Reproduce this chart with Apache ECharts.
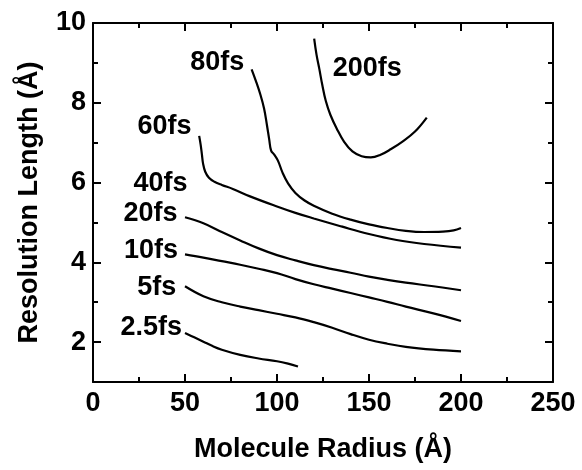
<!DOCTYPE html>
<html>
<head>
<meta charset="utf-8">
<script src="https://cdn.jsdelivr.net/npm/echarts@6/dist/echarts.min.js"></script>
<style>
  html, body { margin: 0; padding: 0; background: #fff; }
  #chart { width: 582px; height: 470px; }
</style>
</head>
<body>
<div id="chart"></div>
<script>
// contour curves, [radius, resolution length]
const curve2p5fs = [[50, 2.23], [55, 2.12], [60, 2.01], [65, 1.9], [70, 1.81], [80, 1.68], [90, 1.59], [100, 1.52], [106, 1.46], [111.4, 1.39]];
const curve5fs = [[50, 3.4], [60, 3.15], [70, 3.0], [80, 2.89], [90, 2.8], [100, 2.71], [110, 2.62], [120, 2.5], [130, 2.36], [140, 2.2], [150, 2.06], [160, 1.96], [170, 1.88], [185, 1.81], [200, 1.77]];
const curve10fs = [[50, 4.2], [60, 4.12], [70, 4.03], [80, 3.94], [90, 3.84], [100, 3.73], [110, 3.58], [120, 3.45], [130, 3.34], [140, 3.23], [150, 3.12], [160, 3.01], [170, 2.89], [185, 2.72], [200, 2.53]];
const curve20fs = [[50, 5.13], [60, 4.98], [70, 4.76], [80, 4.55], [90, 4.35], [100, 4.18], [110, 4.05], [120, 3.93], [130, 3.83], [140, 3.74], [150, 3.64], [160, 3.56], [170, 3.49], [185, 3.4], [200, 3.3]];
const curve60fs = [[57.7, 7.17], [58.5, 6.95], [59.2, 6.7], [59.8, 6.48], [61, 6.27], [63, 6.12], [66, 6.02], [70, 5.94], [76, 5.84], [85, 5.66], [100, 5.4], [110, 5.24], [120, 5.1], [135, 4.9], [150, 4.71], [165, 4.56], [180, 4.46], [200, 4.37]];
const curve80fs = [[86.2, 8.84], [88.5, 8.55], [91, 8.2], [93, 7.85], [94.5, 7.45], [95.8, 7.07], [96.8, 6.8], [98.5, 6.7], [100.5, 6.55], [103, 6.25], [106, 5.98], [110, 5.74], [115, 5.55], [120, 5.42], [130, 5.22], [140, 5.07], [150, 4.95], [160, 4.86], [170, 4.79], [180, 4.76], [190, 4.77], [196, 4.8], [200, 4.86]];
const curve200fs = [[120.2, 9.61], [121.5, 9.2], [123, 8.85], [124.6, 8.45], [126.5, 8.05], [129, 7.7], [132.5, 7.35], [136.5, 7.02], [141, 6.78], [146, 6.66], [151, 6.63], [156, 6.69], [162, 6.84], [168, 7.02], [175, 7.28], [181.4, 7.63]];

// curve labels, placed at their centre in data units
const labelNames = ['80fs', '200fs', '60fs', '40fs', '20fs', '10fs', '5fs', '2.5fs'];
const labelAt = [[67.8, 9.0], [149.3, 8.85], [39.1, 7.4], [37.0, 5.97], [31.5, 5.22], [31.8, 4.28], [34.9, 3.35], [31.9, 2.36]];

// ticks
const yMajor = [2, 4, 6, 8, 10];
const yMinor = [3, 5, 7, 9];

const FONT = "'Liberation Sans', Arial, sans-serif";
const FSIZE = 27;
const black = '#000';

let chart = echarts.init(document.getElementById('chart'));

function lineSeries(data) {
  return {
    type: 'line',
    data: data,
    symbol: 'none',
    smooth: 0.4,
    lineStyle: {color: black, width: 2.2},
    silent: true
  };
}

function yAxisOf(position, values, tickLen, withLine, withLabel) {
  return {
    type: 'value',
    position: position,
    min: 1,
    max: 10,
    splitLine: {show: false},
    axisLine: {show: withLine, lineStyle: {color: black, width: 2}},
    axisTick: {show: true, inside: true, length: tickLen, customValues: values, lineStyle: {color: black, width: 2}},
    axisLabel: {
      show: withLabel,
      customValues: values,
      margin: 7,
      color: black,
      fontFamily: FONT,
      fontWeight: 'bold',
      fontSize: FSIZE
    }
  };
}

let yLeft = yAxisOf('left', yMajor, 8, true, true);
yLeft.name = 'Resolution Length (Å)';
yLeft.nameLocation = 'middle';
yLeft.nameGap = 50;
yLeft.nameTextStyle = {color: black, fontFamily: FONT, fontWeight: 'bold', fontSize: FSIZE};

let labelData = labelNames.map(function (n, i) {
  return {name: n, value: labelAt[i]};
});

chart.setOption({
  backgroundColor: '#fff',
  animation: false,
  grid: {left: 93, right: 29, top: 23, bottom: 88, containLabel: false},
  xAxis: [
    {
      type: 'value',
      position: 'bottom',
      min: 0,
      max: 250,
      interval: 50,
      name: 'Molecule Radius (Å)',
      nameLocation: 'middle',
      nameGap: 54,
      nameTextStyle: {color: black, fontFamily: FONT, fontWeight: 'bold', fontSize: FSIZE},
      splitLine: {show: false},
      axisLine: {show: true, onZero: false, lineStyle: {color: black, width: 2}},
      axisTick: {show: true, inside: true, length: 8, lineStyle: {color: black, width: 2}},
      minorTick: {show: true, splitNumber: 2, length: 5, lineStyle: {color: black, width: 2}},
      axisLabel: {margin: 8, color: black, fontFamily: FONT, fontWeight: 'bold', fontSize: FSIZE}
    },
    {
      type: 'value',
      position: 'top',
      min: 0,
      max: 250,
      interval: 50,
      splitLine: {show: false},
      axisLine: {show: true, onZero: false, lineStyle: {color: black, width: 2}},
      axisTick: {show: true, inside: true, length: 8, lineStyle: {color: black, width: 2}},
      minorTick: {show: true, splitNumber: 2, length: 5, lineStyle: {color: black, width: 2}},
      axisLabel: {show: false}
    }
  ],
  yAxis: [
    yLeft,
    yAxisOf('left', yMinor, 5, false, false),
    yAxisOf('right', yMajor, 8, true, false),
    yAxisOf('right', yMinor, 5, false, false)
  ],
  series: [
    lineSeries(curve2p5fs),
    lineSeries(curve5fs),
    lineSeries(curve10fs),
    lineSeries(curve20fs),
    lineSeries(curve60fs),
    lineSeries(curve80fs),
    lineSeries(curve200fs),
    {
      type: 'scatter',
      data: labelData,
      symbolSize: 1,
      itemStyle: {color: 'rgba(0,0,0,0)', opacity: 1},
      silent: true,
      label: {
        show: true,
        position: [0, 0],
        align: 'center',
        verticalAlign: 'middle',
        formatter: '{b}',
        color: '#000',
        opacity: 1,
        textBorderWidth: 0,
        fontFamily: FONT,
        fontWeight: 'bold',
        fontSize: FSIZE
      }
    }
  ]
});
</script>
</body>
</html>
